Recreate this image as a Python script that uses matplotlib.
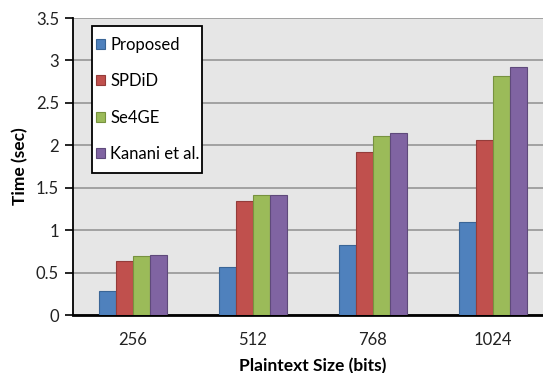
import matplotlib
matplotlib.use("Agg")
import matplotlib.pyplot as plt
from matplotlib.patches import Rectangle
import numpy as np

sizes = ["256", "512", "768", "1024"]
methods = ["Proposed", "SPDiD", "Se4GE", "Kanani et al."]
proposed = [0.28, 0.56, 0.82, 1.095]
spdid = [0.64, 1.34, 1.92, 2.06]
se4ge = [0.70, 1.41, 2.11, 2.82]
kanani = [0.71, 1.42, 2.14, 2.92]

colors = ["#4F81BD", "#C0504D", "#9BBB59", "#8064A2"]
edges = ["#3A6596", "#943C3A", "#77923F", "#5F4A7B"]

plt.rcParams["font.family"] = ["Lato", "DejaVu Sans"]

W, H = 543, 373
fig = plt.figure(figsize=(W / 100, H / 100), dpi=100)
ax = fig.add_axes([73 / W, 58 / H, 480 / W, 297 / H])
ax.set_facecolor("#e6e6e6")

x = np.arange(len(sizes))
w = 0.142
for i, (vals, c, ec, name) in enumerate(zip([proposed, spdid, se4ge, kanani], colors, edges, methods)):
    ax.bar(x + (i - 1.5) * w, vals, width=w, color=c, edgecolor=ec, linewidth=0.8, label=name, zorder=3)

ax.set_xlim(-0.5, 3.5)
ax.set_ylim(0, 3.5)
ax.set_yticks(np.arange(0, 3.51, 0.5))
ax.set_yticklabels(["0", "0.5", "1", "1.5", "2", "2.5", "3", "3.5"])
ax.set_xticks(x)
ax.set_xticklabels(sizes)
ax.grid(axis="y", color="#9c9c9c", linewidth=1.3, zorder=0)
ax.set_axisbelow(True)

for s in ("top", "right"):
    ax.spines[s].set_visible(False)
ax.spines["left"].set_linewidth(1.3)
ax.spines["bottom"].set_linewidth(2)
ax.tick_params(axis="y", length=6, width=1.2, labelsize=12, pad=4, colors="black", labelcolor="#222222")
ax.tick_params(axis="x", length=0, labelsize=12, pad=12, labelcolor="#222222")

ax.set_ylabel("Time (sec)", fontsize=12.5, fontweight="bold")
ax.set_xlabel("Plaintext Size (bits)", fontsize=12.5, fontweight="bold")
ax.yaxis.set_label_coords((28 - 73) / 480, 0.5)
ax.xaxis.set_label_coords(0.5, -43 / 297)

# legend box drawn separately so the padding can be tighter at the sides than at the top
ax.add_artist(Rectangle((92 / W, 1 - 173 / H), 110 / W, 147 / H, transform=fig.transFigure,
                        facecolor="white", edgecolor="black", linewidth=1.3, zorder=4, clip_on=False))
leg = ax.legend(loc="upper left", bbox_to_anchor=(96 / W, 1 - 37 / H), bbox_transform=fig.transFigure,
                fontsize=12, frameon=False,
                handlelength=0.55, handleheight=0.55, handletextpad=0.3,
                labelspacing=1.22, borderpad=0, borderaxespad=0)
leg.set_zorder(5)

fig.savefig("out.png", dpi=100)
